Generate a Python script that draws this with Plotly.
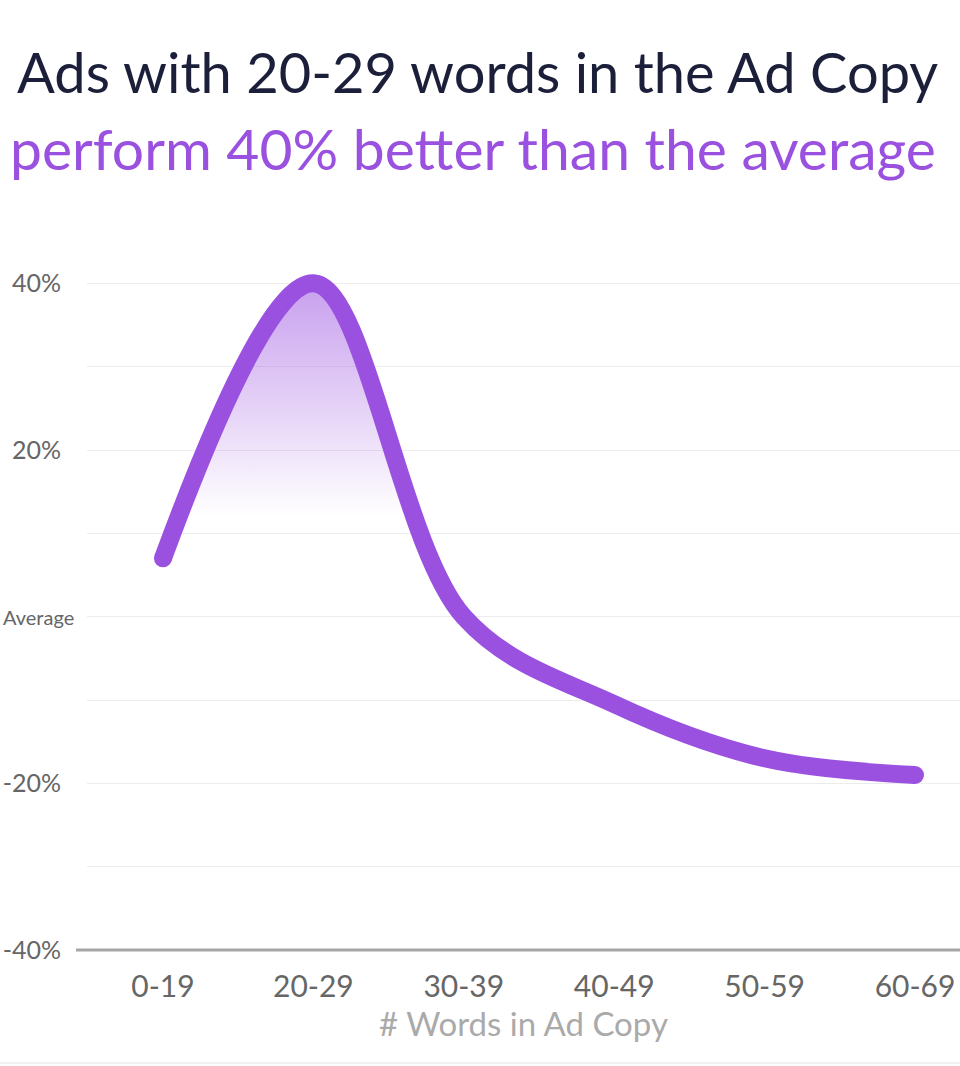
import plotly.graph_objects as go

categories = ["0-19", "20-29", "30-39", "40-49", "50-59", "60-69"]
values = [7, 40, 0, -10.5, -17, -19]
ytick_vals = [-40, -30, -20, -10, 0, 10, 20, 30, 40]
ytick_text = ["-40%", "", "-20%", "", "", "", "20%", "", "40%"]
zero_label = "Average"
title_text = "Ads with 20-29 words in the Ad Copy"
subtitle_text = "perform 40% better than the average"
x_title = "# Words in Ad Copy"

purple = "#9b51e0"
FONT = "Lato"

W, H = 960, 1066
L, R, T, B = 87, 0, 200, 116
pw, ph = W - L - R, H - T - B


def px_x(p):
    return (p - L) / pw


def px_y(p):
    return (H - B - p) / ph


fig = go.Figure()
fig.add_trace(go.Scatter(
    x=categories, y=values, mode="lines",
    line=dict(color=purple, width=18, shape="spline", smoothing=1),
    fill="tozeroy",
    fillgradient=dict(type="vertical", start=12, stop=40,
                      colorscale=[[0, "rgba(155,81,224,0)"], [1, "rgba(155,81,224,0.55)"]]),
    hoverinfo="skip", showlegend=False,
))
fig.add_trace(go.Scatter(
    x=[categories[0], categories[-1]], y=[values[0], values[-1]], mode="markers",
    marker=dict(color=purple, size=18), hoverinfo="skip", showlegend=False,
))

fig.update_layout(
    width=W, height=H,
    margin=dict(l=L, r=R, t=T, b=B, autoexpand=False),
    paper_bgcolor="white", plot_bgcolor="white",
    font=dict(family=FONT),
    showlegend=False,
    hovermode=False,
    xaxis=dict(
        range=[-0.505, 5.299], type="category", automargin=False,
        showgrid=False, zeroline=False, showline=False,
        tickfont=dict(size=30, color="#666666", family=FONT),
        ticklabelstandoff=16,
        title=dict(text=x_title, font=dict(size=33, color="#aaaaaa", family=FONT), standoff=8),
    ),
    yaxis=dict(
        range=[-40, 50], tickvals=ytick_vals, ticktext=ytick_text, automargin=False,
        showgrid=True, gridcolor="#ececec", gridwidth=1, zeroline=False, showline=False,
        tickfont=dict(size=25, color="#666666", family=FONT),
        ticklabelstandoff=25,
    ),
    shapes=[
        dict(type="line", xref="paper", yref="paper", x0=px_x(76), x1=1, y0=0, y1=0,
             line=dict(color="#a6a6a6", width=3)),
        dict(type="line", xref="paper", yref="paper", x0=px_x(0), x1=1, y0=px_y(1063), y1=px_y(1063),
             line=dict(color="#e4e4e4", width=1)),
    ],
    annotations=[
        dict(text=zero_label, xref="paper", yref="y", x=px_x(76), y=0,
             xanchor="right", yanchor="middle", showarrow=False,
             font=dict(size=20, color="#666666", family=FONT)),
        dict(text=title_text, xref="paper", yref="paper", x=px_x(15), y=px_y(72),
             xanchor="left", yanchor="middle", showarrow=False,
             font=dict(size=56, color="#1c1f3a", family=FONT)),
        dict(text=subtitle_text, xref="paper", yref="paper", x=px_x(8), y=px_y(148),
             xanchor="left", yanchor="middle", showarrow=False,
             font=dict(size=57, color=purple, family=FONT)),
    ],
)

fig.write_html("out.html")
